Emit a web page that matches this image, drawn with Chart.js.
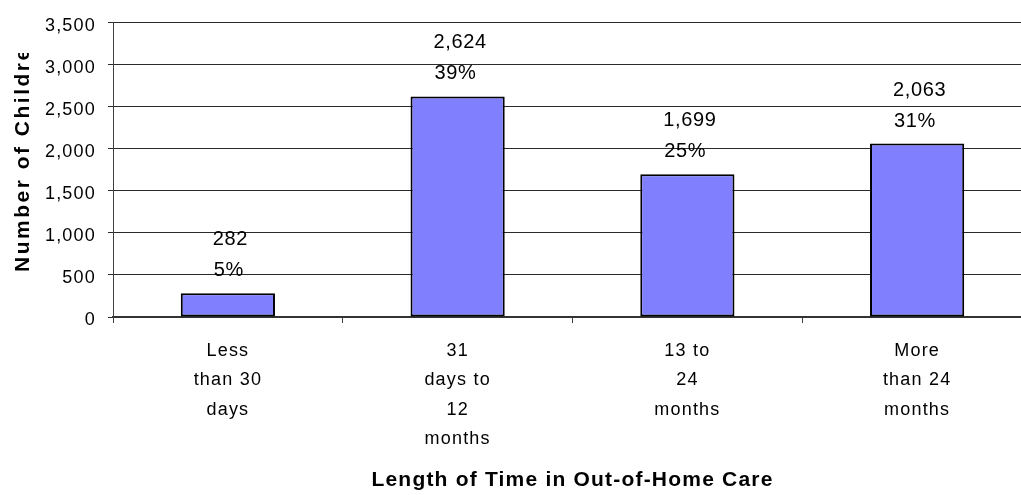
<!DOCTYPE html>
<html>
<head>
<meta charset="utf-8">
<script src="https://cdn.jsdelivr.net/npm/chart.js@4"></script>
<style>
  html, body { margin: 0; padding: 0; background: #fff; overflow: hidden; }
  #wrap { width: 1021px; height: 495px; overflow: hidden; }
</style>
</head>
<body>
<div id="wrap"><canvas id="durationChart" width="1040" height="495"></canvas></div>
<script>
// chart data
const categories = [
    ['Less', 'than 30', 'days'],
    ['31', 'days to', '12', 'months'],
    ['13 to', '24', 'months'],
    ['More', 'than 24', 'months']
];
const childCounts = [282, 2624, 1699, 2063];
const percentLabels = ['5%', '39%', '25%', '31%'];
const yTickValues = [0, 500, 1000, 1500, 2000, 2500, 3000, 3500];

const FONT = "'Liberation Sans', Arial, sans-serif";

// the original text is drawn a little spread out
const letterSpacing = {
    id: 'letterSpacing',
    beforeUpdate(chart) { chart.ctx.letterSpacing = '1.2px'; },
    beforeDraw(chart) { chart.ctx.letterSpacing = '1.2px'; }
};

// value + percent above every bar
const barLabels = {
    id: 'barLabels',
    afterDatasetsDraw(chart) {
        const ctx = chart.ctx;
        const bars = chart.getDatasetMeta(0).data;
        ctx.save();
        ctx.letterSpacing = '0.6px';
        ctx.font = '20px ' + FONT;
        ctx.fillStyle = '#000';
        ctx.textAlign = 'left';
        ctx.textBaseline = 'alphabetic';
        bars.forEach((bar, i) => {
            const valueText = childCounts[i].toLocaleString('en-US');
            const w = ctx.measureText(valueText).width;
            const x0 = bar.x - w / 2 + 2.5;
            ctx.fillText(valueText, x0, bar.y - 48);
            ctx.fillText(percentLabels[i], x0 + 1, bar.y - 17);
        });
        ctx.restore();
    }
};

// y title is cut off at the top in the original
const yTitle = {
    id: 'yTitle',
    afterDraw(chart) {
        const ctx = chart.ctx;
        ctx.save();
        ctx.beginPath();
        ctx.rect(0, 53, 60, 442);
        ctx.clip();
        ctx.letterSpacing = '2.5px';
        ctx.font = 'bold 21px ' + FONT;
        ctx.fillStyle = '#000';
        ctx.textAlign = 'left';
        ctx.textBaseline = 'alphabetic';
        ctx.translate(28.5, 272);
        ctx.rotate(-Math.PI / 2);
        ctx.fillText('Number of Children', 0, 0);
        ctx.restore();
    }
};

new Chart(document.getElementById('durationChart'), {
    type: 'bar',
    data: {
        labels: categories,
        datasets: [{
            data: childCounts,
            backgroundColor: '#8080FF',
            borderColor: '#000000',
            borderWidth: 2,
            borderSkipped: false,
            categoryPercentage: 1,
            barPercentage: 0.41
        }]
    },
    options: {
        responsive: false,
        animation: false,
        layout: { padding: { top: 16, right: 8, bottom: 0, left: 0 } },
        plugins: {
            legend: { display: false },
            tooltip: { enabled: false }
        },
        scales: {
            x: {
                afterFit(scale) { scale.height = 178; },
                grid: {
                    offset: true,
                    drawOnChartArea: false,
                    tickLength: 6,
                    color: '#404040'
                },
                border: { color: '#333333', width: 2 },
                ticks: {
                    color: '#000',
                    padding: 13,
                    maxRotation: 0,
                    autoSkip: false,
                    font: { family: FONT, size: 18, lineHeight: '29.5px' }
                },
                title: {
                    display: true,
                    text: 'Length of Time in Out-of-Home Care',
                    color: '#000',
                    font: { family: FONT, size: 21, weight: 'bold' },
                    padding: { top: 0, bottom: 2 }
                }
            },
            y: {
                min: 0,
                max: 3500,
                afterFit(scale) { scale.width = 113; },
                afterBuildTicks(scale) {
                    scale.ticks = yTickValues.map(v => ({ value: v }));
                },
                grid: {
                    color: '#2a2a2a',
                    tickLength: 5
                },
                border: { color: '#404040', width: 1 },
                ticks: {
                    color: '#000',
                    padding: 12,
                    labelOffset: 3,
                    font: { family: FONT, size: 18 },
                    callback: v => v.toLocaleString('en-US')
                }
            }
        }
    },
    plugins: [letterSpacing, barLabels, yTitle]
});
</script>
</body>
</html>
